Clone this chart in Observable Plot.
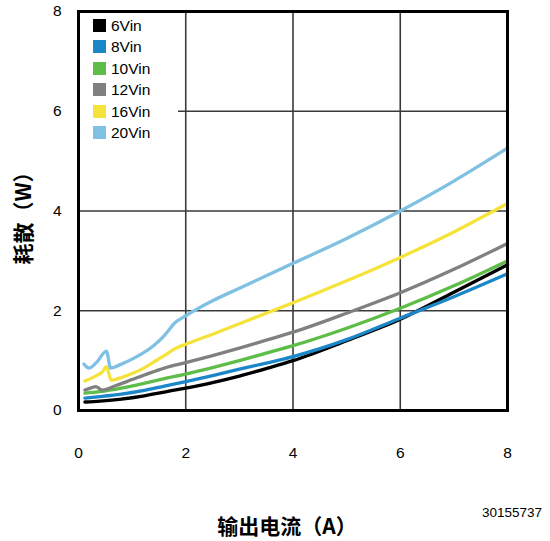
<!DOCTYPE html>
<html>
<head>
<meta charset="utf-8">
<script src="https://cdn.jsdelivr.net/npm/d3@7"></script>
<script src="https://cdn.jsdelivr.net/npm/@observablehq/plot@0.6"></script>
<style>
  body { margin: 0; background: #fff; }
  #wrap { position: relative; width: 550px; height: 541px; font-family: "Liberation Sans", Arial, sans-serif; }
  #legend { position: absolute; left: 80px; top: 13px; width: 98px; height: 132px; background: #fff; }
  .row { position: absolute; left: 13px; height: 16px; font-size: 15.5px; line-height: 16px; color: #000; }
  .sw { display: inline-block; width: 13px; height: 13px; vertical-align: -1px; margin-right: 5px; }
  #ylab { position: absolute; left: 22px; top: 213px; transform: translate(-50%, -50%) rotate(-90deg); font-family: "Noto Sans CJK SC", sans-serif; font-weight: bold; font-size: 21px; white-space: nowrap; }
  #xlab { position: absolute; left: 287px; top: 525px; transform: translate(-50%, -50%); font-family: "Noto Sans CJK SC", sans-serif; font-weight: bold; font-size: 21px; white-space: nowrap; }
  #code { position: absolute; left: 512px; top: 512px; transform: translate(-50%, -50%); font-size: 13.5px; }
</style>
</head>
<body>
<div id="wrap"></div>
<script>
const seriesNames = ["6Vin", "8Vin", "10Vin", "12Vin", "16Vin", "20Vin"];
const seriesColors = ["#000000", "#1b87c9", "#5dbd48", "#808080", "#f5e33b", "#7fc1e3"];

const x6 = [0.12,0.4,0.8,1.2,1.6,2,2.5,3,3.5,4,5,6,7,8];
const y6 = [0.17,0.19,0.23,0.29,0.37,0.45,0.56,0.69,0.84,1.0,1.4,1.83,2.37,2.92];
const x8 = [0.12,0.4,0.8,1.2,1.6,2,2.5,3,3.5,4,5,6,7,8];
const y8 = [0.25,0.28,0.33,0.4,0.49,0.58,0.7,0.83,0.95,1.08,1.42,1.85,2.28,2.74];
const x10 = [0.12,0.4,0.8,1.2,1.6,2,2.5,3,3.5,4,5,6,7,8];
const y10 = [0.35,0.38,0.45,0.54,0.64,0.73,0.86,1.0,1.15,1.3,1.65,2.05,2.5,3.0];
const x12 = [0.12,0.25,0.32,0.44,0.7,1.0,1.3,1.6,2.0,2.5,3,3.5,4,5,6,7,8];
const y12 = [0.41,0.46,0.48,0.41,0.5,0.62,0.74,0.85,0.96,1.1,1.25,1.41,1.57,1.95,2.36,2.83,3.35];
const x16 = [0.12,0.3,0.45,0.52,0.61,0.8,1.0,1.2,1.4,1.6,1.8,2.0,2.5,3,3.5,4,5,6,7,8];
const y16 = [0.59,0.68,0.78,0.88,0.61,0.66,0.74,0.84,0.97,1.1,1.24,1.33,1.53,1.74,1.95,2.16,2.6,3.07,3.58,4.15];
const x20 = [0.1,0.2,0.35,0.52,0.6,0.8,1.0,1.2,1.4,1.6,1.8,2.0,2.5,3,3.5,4,5,6,7,8];
const y20 = [0.93,0.85,0.98,1.19,0.85,0.93,1.03,1.15,1.3,1.5,1.76,1.9,2.2,2.45,2.7,2.95,3.45,4.0,4.6,5.26];

const xTicks = [0, 2, 4, 6, 8];
const yTicks = [0, 2, 4, 6, 8];

const allX = [x6, x8, x10, x12, x16, x20];
const allY = [y6, y8, y10, y12, y16, y20];
const data = [];
seriesNames.forEach((name, i) => {
  allX[i].forEach((xv, j) => data.push({series: name, x: xv, y: allY[i][j]}));
});

const chart = Plot.plot({
  width: 550,
  height: 541,
  marginLeft: 78,
  marginRight: 43,
  marginTop: 11,
  marginBottom: 131,
  style: {fontFamily: "'Liberation Sans', Arial, sans-serif", fontSize: "15.5px", color: "#000", background: "#fff"},
  x: {domain: [0, 8], ticks: xTicks, label: null},
  y: {domain: [0, 8], ticks: yTicks, label: null},
  color: {domain: seriesNames, range: seriesColors},
  marks: [
    Plot.gridX(xTicks, {stroke: "#3a3a3a", strokeOpacity: 1, strokeWidth: 1.6}),
    Plot.gridY(yTicks, {stroke: "#3a3a3a", strokeOpacity: 1, strokeWidth: 1.6}),
    Plot.axisX({ticks: xTicks, tickSize: 0, tickPadding: 36, tickFormat: d => String(d)}),
    Plot.axisY({ticks: yTicks, tickSize: 0, tickPadding: 17, tickFormat: d => String(d)}),
    Plot.line(data, {x: "x", y: "y", z: "series", stroke: "series", strokeWidth: 3.3, curve: "monotone-x"}),
    Plot.frame({stroke: "#000", strokeWidth: 3})
  ]
});

const wrap = document.getElementById("wrap");
wrap.appendChild(chart);

const legend = document.createElement("div");
legend.id = "legend";
seriesNames.forEach((name, i) => {
  const row = document.createElement("div");
  row.className = "row";
  row.style.top = (5 + i * 21.4) + "px";
  row.innerHTML = `<span class="sw" style="background:${seriesColors[i]}"></span>${name}`;
  legend.appendChild(row);
});
wrap.appendChild(legend);

const ylab = document.createElement("div");
ylab.id = "ylab"; ylab.textContent = "耗散（W）";
wrap.appendChild(ylab);
const xlab = document.createElement("div");
xlab.id = "xlab"; xlab.textContent = "输出电流（A）";
wrap.appendChild(xlab);
const code = document.createElement("div");
code.id = "code"; code.textContent = "30155737";
wrap.appendChild(code);
</script>
</body>
</html>
